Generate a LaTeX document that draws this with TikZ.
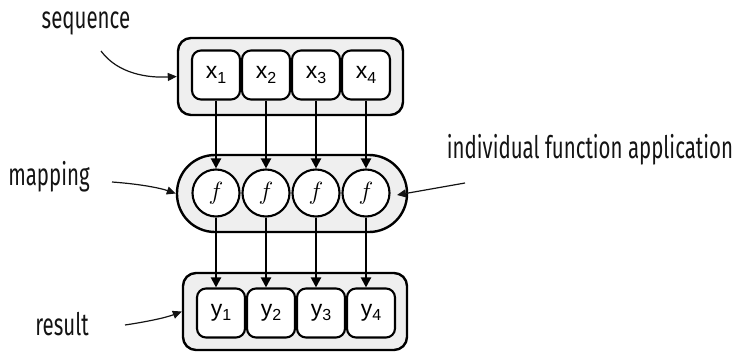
\documentclass[tikz,border=0pt]{standalone}
\usepackage{fontspec}
\usetikzlibrary{arrows.meta}
\newfontfamily\cellfont{Liberation Sans}
\newfontfamily\notefont{Fira Sans}[FakeStretch=0.66]
\definecolor{boxfill}{HTML}{EFEFEF}
\definecolor{ink}{HTML}{141414}
\begin{document}
\begin{tikzpicture}[x=1pt,y=-1pt,
  outerbox/.style={draw, line width=2.4pt, fill=boxfill, rounded corners=13pt,
    inner sep=0pt, minimum width=#1, minimum height=77pt},
  cell/.style={draw, line width=2.1pt, fill=white, rounded corners=9pt,
    minimum width=48pt, minimum height=49pt, inner sep=0pt,
    font=\cellfont\fontsize{23}{23}\selectfont},
  fcirc/.style={draw, circle, line width=2.1pt, fill=white, minimum size=47pt,
    inner sep=0pt, font=\fontsize{27}{27}\selectfont},
  flow/.style={-{Triangle[length=10pt,width=10pt]}, line width=2.1pt},
  pointer/.style={-{Triangle[length=9pt,width=8pt]}, line width=1.2pt, draw=ink},
  note/.style={text=ink, inner sep=0pt, font=\notefont\fontsize{31}{31}\selectfont}
]
\useasboundingbox (0,0) rectangle (747,351);

% input sequence
\node[outerbox=225pt] (seqbox) at (290.5,76.5) {};
\foreach \i/\x in {1/216,2/266,3/316,4/366}
  \node[cell] (x\i) at (\x,75) {x\raisebox{-0.35ex}{\fontsize{16}{16}\selectfont\i}};

% mapping
\node[draw, line width=2.4pt, fill=boxfill, rounded corners=38pt,
  minimum width=230pt, minimum height=77pt, inner sep=0pt] (mapbox) at (292,193.5) {};
\foreach \i/\x in {1/216,2/266,3/316,4/366}
  \node[fcirc] (f\i) at (\x,193) {$f$};

% result sequence
\node[outerbox=224pt] (resbox) at (295,311.5) {};
\foreach \i/\x in {1/221,2/271,3/321,4/371}
  \node[cell] (y\i) at (\x,313) {y\raisebox{-0.35ex}{\fontsize{16}{16}\selectfont\i}};

% element-wise flow
\foreach \i in {1,2,3,4} {
  \draw[flow] (x\i.south) -- (f\i.north);
  \draw[flow] (f\i.south) -- (f\i.south |- y\i.north);
}

% annotations
\node[note] (seqlbl) at (86,23) {sequence};
\node[note] (maplbl) at (49,177) {mapping};
\node[note] (applbl) at (590,150) {individual function application};
\node[note] (reslbl) at (62,324) {result};

\coordinate (seqfrom) at (101,51);
\coordinate (mapfrom) at (112,182);
\coordinate (appfrom) at (465,183);
\coordinate (appto) at (397,195);
\coordinate (resfrom) at (125,325);

\draw[pointer] (seqfrom) .. controls (118,74) and (148,78) .. (seqbox.west);
\draw[pointer] (mapfrom) .. controls (140,184) and (160,188) .. (mapbox.west);
\draw[pointer] (appfrom) -- (appto);
\draw[pointer] (resfrom) .. controls (145,322) and (165,318) .. (resbox.west);
\end{tikzpicture}
\end{document}
